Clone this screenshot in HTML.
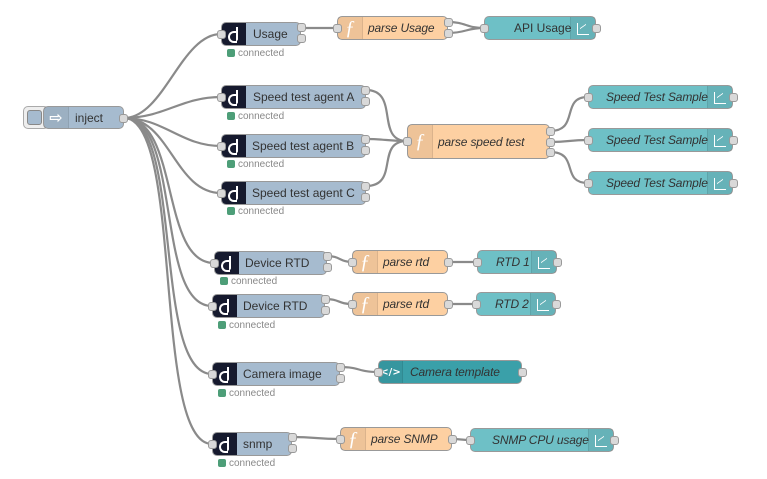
<!DOCTYPE html>
<html><head><meta charset="utf-8"><style>
body{margin:0;width:767px;height:479px;background:#fff;position:relative;overflow:hidden;font-family:"Liberation Sans",sans-serif}
.n{position:absolute;box-sizing:border-box;border:1px solid #999;border-radius:5px;height:24px;font-size:12px;color:#333;display:flex;align-items:center;overflow:visible}
.b{background:#a6bbcf}.o{background:#fdd0a2}.t{background:#6ec0c6}.tt{background:#3aa0a9}
.di{position:absolute;left:0;top:0;bottom:0;width:24px;background:#161a2e;border-radius:4px 0 0 4px}
.di:after{content:"";position:absolute;left:6px;top:8px;width:7px;height:8px;border:2px solid #fff;border-right:none;border-radius:6px 0 0 6px}
.di:before{content:"";position:absolute;left:14px;top:4px;width:2px;height:14px;background:#fff;border-radius:0 0 2px 0}
.fi{position:absolute;left:0;top:0;bottom:0;width:24px;background:rgba(0,0,0,.06);border-right:1px solid rgba(0,0,0,.08);color:#fff;font:italic 20px "Liberation Serif",serif;display:flex;align-items:center;justify-content:center}
.ci{position:absolute;right:0;top:0;bottom:0;width:24px;background:rgba(0,0,0,.07);border-left:1px solid rgba(0,0,0,.08)}
.ci:after{content:"";position:absolute;left:6px;top:6px;width:11px;height:11px;border-left:1.5px solid #fff;border-bottom:1.5px solid #fff}
.ci:before{content:"";position:absolute;left:9px;top:9px;width:6px;height:4px;border-top:1.5px solid #fff;transform:skewY(-35deg)}
.p{position:absolute;width:9px;height:9px;background:#d9d9d9;border:1px solid #999;border-radius:3px;box-sizing:border-box}
.l{position:absolute;white-space:nowrap}
.i{font-style:italic;letter-spacing:-0.15px}
.s{position:absolute;font-size:10px;color:#888;white-space:nowrap}
.s:before{content:"";display:inline-block;width:8px;height:8px;background:#4d9e78;border-radius:2px;margin-right:3px;vertical-align:-1px}
svg{position:absolute;left:0;top:0}
</style></head><body>
<svg width="767" height="479" fill="none" stroke="#8a8a8a" stroke-width="2.2">
<path d="M124 118 C164 118,181 34,221 34"/>
<path d="M124 118 C164 118,181 97,221 97"/>
<path d="M124 118 C164 118,181 146,221 146"/>
<path d="M124 118 C170 118,175 193,221 193"/>
<path d="M124 118 C180 118,160 263,214 263"/>
<path d="M124 118 C182 118,155 306,212 306"/>
<path d="M124 118 C184 118,152 374,212 374"/>
<path d="M124 118 C184 118,152 444,212 444"/>
<path d="M301 28 C320 28,318 28,337 28"/>
<path d="M448 22 C466 22,466 28,484 28"/>
<path d="M448 33 C466 33,466 28,484 28"/>
<path d="M366 90 C400 90,375 141,407 141"/>
<path d="M366 139 C386 139,387 141,407 141"/>
<path d="M366 186 C400 186,375 141,407 141"/>
<path d="M550 131 C580 131,560 97,588 97"/>
<path d="M550 142 C570 142,568 140,588 140"/>
<path d="M550 152 C580 152,560 183,588 183"/>
<path d="M327 256 C340 256,340 262,352 262"/>
<path d="M448 262 C462 262,463 262,477 262"/>
<path d="M325 299 C340 299,338 304,352 304"/>
<path d="M448 304 C462 304,462 304,476 304"/>
<path d="M340 367 C360 367,358 372,378 372"/>
<path d="M292 437 C316 437,316 439,340 439"/>
<path d="M452 439 C461 439,461 440,470 440"/>
</svg>

<div class="n" style="left:23px;top:106px;width:26px;height:23px;background:#eee;border-color:#aaa"><div style="position:absolute;left:3px;top:3px;width:15px;height:15px;background:#a6bbcf;border:1px solid #888;border-radius:3px;box-sizing:border-box"></div></div>
<div class="n b" style="left:43px;top:106px;width:81px;height:23px"><div class="fi" style="font:bold 16px 'DejaVu Sans',sans-serif">⇨</div><span class="l" style="left:31px">inject</span></div>
<div class="p" style="left:119px;top:114px"></div>

<div class="n b" style="left:221px;top:22px;width:80px"><div class="di"></div><span class="l" style="left:31px">Usage</span></div>
<div class="p" style="left:217px;top:30px"></div><div class="p" style="left:297px;top:23px"></div><div class="p" style="left:297px;top:34px"></div>
<div class="s" style="left:227px;top:48px">connected</div>
<div class="n o" style="left:337px;top:16px;width:111px"><div class="fi">ƒ</div><span class="l i" style="left:30px">parse Usage</span></div>
<div class="p" style="left:333px;top:24px"></div><div class="p" style="left:444px;top:18px"></div><div class="p" style="left:444px;top:29px"></div>
<div class="n t" style="left:484px;top:16px;width:112px"><span class="l" style="left:29px">API Usage</span><div class="ci"></div></div>
<div class="p" style="left:480px;top:24px"></div><div class="p" style="left:592px;top:24px"></div>

<div class="n b" style="left:221px;top:85px;width:145px"><div class="di"></div><span class="l" style="left:31px">Speed test agent A</span></div>
<div class="p" style="left:217px;top:93px"></div><div class="p" style="left:361px;top:86px"></div><div class="p" style="left:361px;top:97px"></div>
<div class="s" style="left:227px;top:111px">connected</div>
<div class="n b" style="left:221px;top:134px;width:145px"><div class="di"></div><span class="l" style="left:30px">Speed test agent B</span></div>
<div class="p" style="left:217px;top:142px"></div><div class="p" style="left:361px;top:135px"></div><div class="p" style="left:361px;top:146px"></div>
<div class="s" style="left:227px;top:159px">connected</div>
<div class="n b" style="left:221px;top:181px;width:145px"><div class="di"></div><span class="l" style="left:30px">Speed test agent C</span></div>
<div class="p" style="left:217px;top:189px"></div><div class="p" style="left:361px;top:182px"></div><div class="p" style="left:361px;top:193px"></div>
<div class="s" style="left:227px;top:206px">connected</div>

<div class="n o" style="left:407px;top:124px;width:143px;height:35px"><div class="fi">ƒ</div><span class="l i" style="left:30px">parse speed test</span></div>
<div class="p" style="left:403px;top:137px"></div><div class="p" style="left:546px;top:127px"></div><div class="p" style="left:546px;top:138px"></div><div class="p" style="left:546px;top:148px"></div>

<div class="n t" style="left:588px;top:85px;width:145px"><span class="l i" style="left:17px">Speed Test Sample</span><div class="ci"></div></div>
<div class="p" style="left:584px;top:93px"></div><div class="p" style="left:729px;top:93px"></div>
<div class="n t" style="left:588px;top:128px;width:145px"><span class="l i" style="left:17px">Speed Test Sample</span><div class="ci"></div></div>
<div class="p" style="left:584px;top:136px"></div><div class="p" style="left:729px;top:136px"></div>
<div class="n t" style="left:588px;top:171px;width:145px"><span class="l i" style="left:17px">Speed Test Sample</span><div class="ci"></div></div>
<div class="p" style="left:584px;top:179px"></div><div class="p" style="left:729px;top:179px"></div>

<div class="n b" style="left:214px;top:251px;width:113px"><div class="di"></div><span class="l" style="left:30px">Device RTD</span></div>
<div class="p" style="left:210px;top:259px"></div><div class="p" style="left:323px;top:252px"></div><div class="p" style="left:323px;top:263px"></div>
<div class="s" style="left:220px;top:276px">connected</div>
<div class="n o" style="left:352px;top:250px;width:96px"><div class="fi">ƒ</div><span class="l i" style="left:30px">parse rtd</span></div>
<div class="p" style="left:348px;top:258px"></div><div class="p" style="left:444px;top:258px"></div>
<div class="n t" style="left:477px;top:250px;width:80px"><span class="l i" style="left:18px">RTD 1</span><div class="ci"></div></div>
<div class="p" style="left:473px;top:258px"></div><div class="p" style="left:553px;top:258px"></div>

<div class="n b" style="left:212px;top:294px;width:113px"><div class="di"></div><span class="l" style="left:30px">Device RTD</span></div>
<div class="p" style="left:208px;top:302px"></div><div class="p" style="left:321px;top:295px"></div><div class="p" style="left:321px;top:306px"></div>
<div class="s" style="left:218px;top:320px">connected</div>
<div class="n o" style="left:352px;top:292px;width:96px"><div class="fi">ƒ</div><span class="l i" style="left:30px">parse rtd</span></div>
<div class="p" style="left:348px;top:300px"></div><div class="p" style="left:444px;top:300px"></div>
<div class="n t" style="left:476px;top:292px;width:80px"><span class="l i" style="left:18px">RTD 2</span><div class="ci"></div></div>
<div class="p" style="left:472px;top:300px"></div><div class="p" style="left:552px;top:300px"></div>

<div class="n b" style="left:212px;top:362px;width:128px"><div class="di"></div><span class="l" style="left:30px">Camera image</span></div>
<div class="p" style="left:208px;top:370px"></div><div class="p" style="left:336px;top:363px"></div><div class="p" style="left:336px;top:374px"></div>
<div class="s" style="left:218px;top:388px">connected</div>
<div class="n tt" style="left:378px;top:360px;width:144px"><div class="fi" style="font:bold 10px 'DejaVu Sans',sans-serif;width:23px">&lt;/&gt;</div><span class="l i" style="left:31px">Camera template</span></div>
<div class="p" style="left:374px;top:368px"></div><div class="p" style="left:518px;top:368px"></div>

<div class="n b" style="left:212px;top:432px;width:80px"><div class="di"></div><span class="l" style="left:30px">snmp</span></div>
<div class="p" style="left:208px;top:440px"></div><div class="p" style="left:288px;top:433px"></div><div class="p" style="left:288px;top:444px"></div>
<div class="s" style="left:218px;top:458px">connected</div>
<div class="n o" style="left:340px;top:427px;width:112px"><div class="fi">ƒ</div><span class="l i" style="left:30px">parse SNMP</span></div>
<div class="p" style="left:336px;top:435px"></div><div class="p" style="left:448px;top:435px"></div>
<div class="n t" style="left:470px;top:428px;width:144px"><span class="l i" style="left:21px">SNMP CPU usage</span><div class="ci"></div></div>
<div class="p" style="left:466px;top:436px"></div><div class="p" style="left:610px;top:436px"></div>
</body></html>
